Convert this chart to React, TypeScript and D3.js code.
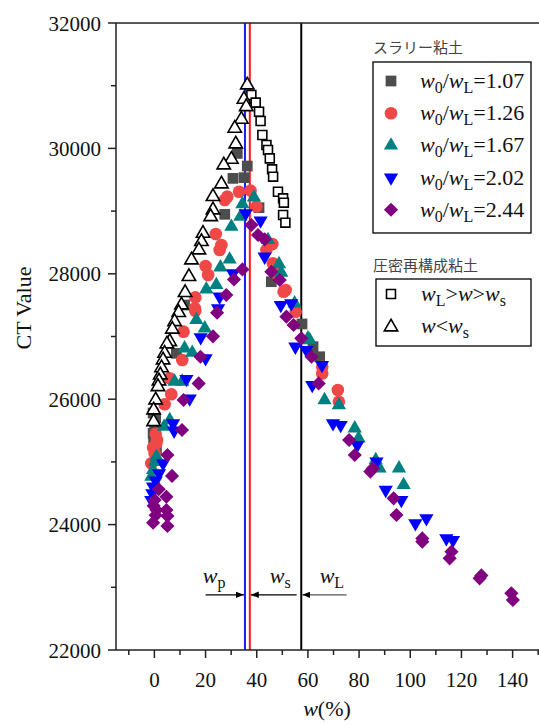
import React from "react";
import * as d3 from "d3";

const xTicksMajor = [0, 20, 40, 60, 80, 100, 120, 140];
const yTicksMajor = [22000, 24000, 26000, 28000, 30000, 32000];

const wP = 35.4;
const wS = 37.3;
const wL = 57.4;

const gray107: [number, number][] = [
  [32.4, 29920], [36.3, 29719], [35.0, 29533], [30.7, 29522], [40.9, 29055], [27.5, 28949],
  [45.7, 27874], [11.8, 27502], [8.6, 26732], [0.1, 25561], [-0.5, 25455], [0.5, 25700],
  [-0.3, 25300], [-0.5, 25780], [0.8, 25200], [57.7, 27200], [62.0, 26837], [64.6, 26677],
];
const red126: [number, number][] = [
  [37.6, 29327], [33.1, 29309], [28.5, 29230], [27.5, 29177], [39.9, 29071], [24.0, 28635],
  [26.2, 28459], [25.5, 28379], [20.0, 28124], [21.0, 27980], [16.0, 27624], [15.8, 27450],
  [16.0, 27411], [11.4, 27077], [10.9, 26625], [6.0, 26333], [6.6, 26078], [4.0, 25919],
  [1.0, 25349], [0.8, 25297], [0.1, 25137], [-1.2, 24978], [0.5, 25450], [-0.5, 25230],
  [46.3, 28167], [47.7, 28006], [51.3, 27742], [43.8, 28379], [46.1, 28475], [50.5, 27713],
  [55.2, 27395], [65.6, 26517], [65.6, 26411], [71.7, 26147], [72.1, 25960],
];
const teal167: [number, number][] = [
  [38.9, 29219], [34.4, 29113], [33.6, 28910], [30.1, 28751], [29.4, 28230], [25.8, 28104],
  [24.2, 27822], [20.3, 27753], [16.4, 27263], [19.7, 27130], [11.8, 26812], [14.8, 26742],
  [7.9, 26282], [10.9, 26282], [3.8, 25561], [6.0, 25668], [0.8, 25083], [0.3, 25000],
  [-0.5, 24871], [-1.2, 24764], [48.7, 28156], [49.6, 28018], [54.8, 27530], [44.4, 28539],
  [60.7, 26944], [60.0, 26971], [66.5, 25987], [72.1, 25907], [78.3, 25535], [79.8, 25376],
  [86.5, 25030], [88.0, 24898], [95.6, 24898], [97.4, 24632],
];
const blue202: [number, number][] = [
  [35.7, 28965], [41.5, 28848], [43.1, 28273], [30.7, 28006], [25.5, 27635], [24.9, 27450],
  [18.1, 26987], [20.0, 26652], [12.5, 26322], [13.8, 26010], [7.3, 25615], [7.7, 25497],
  [3.4, 24978], [1.8, 24818], [0.5, 24700], [-0.5, 24605], [-0.8, 24500], [-1.2, 24392],
  [49.4, 27502], [53.5, 27530], [55.1, 26837], [59.4, 26784], [65.5, 26545], [61.7, 26226],
  [69.8, 25615], [72.8, 25588], [79.3, 25269], [86.8, 25003], [90.4, 24552], [96.5, 24392],
  [102.0, 24021], [106.3, 24101], [114.1, 23782], [116.7, 23754],
];
const purple244: [number, number][] = [
  [37.9, 28778], [40.5, 28619], [43.1, 28550], [34.4, 28070], [31.1, 27910], [28.1, 27662],
  [24.5, 27380], [22.9, 27002], [18.0, 26677], [17.3, 26252], [11.4, 25987], [10.8, 25509],
  [5.1, 25110], [6.9, 24776], [1.7, 24563], [4.7, 24445], [0.1, 24392], [-0.3, 24300],
  [0.8, 24233], [4.7, 24233], [5.1, 24137], [0.5, 24150], [-0.5, 24031], [5.1, 23978],
  [45.7, 28032], [49.0, 27901], [51.6, 27316], [54.4, 27183], [57.4, 26971], [61.4, 26677],
  [64.2, 26252], [76.1, 25349], [78.3, 25110], [84.4, 24845], [85.4, 24898], [93.5, 24419],
  [94.6, 24153], [104.7, 23728], [104.7, 23780], [116.1, 23568], [115.4, 23462],
  [127.1, 23143], [127.8, 23190], [139.5, 22904], [140.1, 22797],
];
const openSquares: [number, number][] = [
  [37.9, 30852], [39.6, 30730], [40.9, 30585], [41.5, 30437], [42.2, 30213], [43.8, 30054],
  [44.4, 29974], [45.1, 29841], [46.0, 29666], [46.4, 29549], [48.3, 29309], [50.3, 29204],
  [50.6, 29134], [50.3, 28938], [51.2, 28815],
];
const openTriangles: [number, number][] = [
  [36.3, 31011], [35.0, 30783], [35.9, 30665], [34.0, 30464], [31.4, 30320], [31.8, 30070],
  [30.1, 29826], [27.1, 29735], [26.2, 29432], [22.9, 29230], [22.9, 29018], [22.0, 28910],
  [19.0, 28645], [18.4, 28512], [17.4, 28379], [14.5, 28220], [13.5, 27954], [12.0, 27700],
  [10.6, 27502], [9.5, 27380], [7.9, 27236], [7.0, 27115], [6.0, 26917], [4.9, 26880],
  [4.0, 26732], [3.4, 26625], [2.8, 26500], [2.3, 26386], [1.8, 26290], [1.4, 26199],
  [0.5, 25987], [-0.3, 25828], [-0.3, 25641],
];

const SERIF = '"Liberation Serif", "DejaVu Serif", serif';
const CJK = '"Noto Sans CJK JP", "Noto Sans CJK SC", sans-serif';

const W = 539;
const H = 724;

const x = d3.scaleLinear().domain([-15, 155]).range([116, 551]);
const y = d3.scaleLinear().domain([22000, 32000]).range([650, 23]);

const sq = d3.symbol().type(d3.symbolSquare).size(115)()!;
const circ = d3.symbol().type(d3.symbolCircle).size(125)()!;
const tri = d3.symbol().type(d3.symbolTriangle).size(88)()!;
const dia = d3.symbol().type(d3.symbolSquare).size(100)()!;
const osq = d3.symbol().type(d3.symbolSquare).size(80)()!;
const otri = d3.symbol().type(d3.symbolTriangle).size(78)()!;

type Style = { d: string; fill: string; stroke?: string; sw?: number; rot?: number };
const sGray: Style = { d: sq, fill: "#4d4d4d" };
const sRed: Style = { d: circ, fill: "#f04747" };
const sTeal: Style = { d: tri, fill: "#008080", rot: 0 };
const sBlue: Style = { d: tri, fill: "#0000ff", rot: 180 };
const sPurple: Style = { d: dia, fill: "#800080", rot: 45 };
const sOSq: Style = { d: osq, fill: "#fff", stroke: "#000", sw: 1.6 };
const sOTri: Style = { d: otri, fill: "#fff", stroke: "#000", sw: 1.6 };

function Marks({ data, s }: { data: [number, number][]; s: Style }) {
  return (
    <g>
      {data.map((p, i) => (
        <path
          key={i}
          d={s.d}
          transform={`translate(${x(p[0])},${y(p[1])})${s.rot ? ` rotate(${s.rot})` : ""}`}
          fill={s.fill}
          stroke={s.stroke || "none"}
          strokeWidth={s.sw || 0}
        />
      ))}
    </g>
  );
}

function Sym({ s, cx, cy }: { s: Style; cx: number; cy: number }) {
  return (
    <path
      d={s.d}
      transform={`translate(${cx},${cy})${s.rot ? ` rotate(${s.rot})` : ""}`}
      fill={s.fill}
      stroke={s.stroke || "none"}
      strokeWidth={s.sw || 0}
    />
  );
}

const legendVals = ["1.07", "1.26", "1.67", "2.02", "2.44"];
const legendStyles = [sGray, sRed, sTeal, sBlue, sPurple];

const serifStyle = { fontFamily: SERIF };
const cjkStyle = { fontFamily: CJK };

export default function App() {
  const xMinor = d3.range(-10, 151, 10);
  const yMinor = d3.range(22000, 32001, 1000);
  const axisColor = "#222";
  const annY = 22880;
  return (
    <svg
      width={W}
      height={H}
      style={{ position: "absolute", left: 0, top: 0, background: "#fff", fontFamily: SERIF }}
    >
      <defs>
        <marker id="ah" viewBox="0 0 10 10" refX="10" refY="5" markerWidth="8" markerHeight="8" orient="auto-start-reverse" markerUnits="userSpaceOnUse">
          <path d="M0,1 L10,5 L0,9 z" fill="#000" />
        </marker>
      </defs>

      {/* reference lines */}
      <line x1={x(wP)} x2={x(wP)} y1={y(32000)} y2={y(22000)} stroke="#1a1aff" strokeWidth={2} />
      <line x1={x(wS)} x2={x(wS)} y1={y(32000)} y2={y(22000)} stroke="#ff1a1a" strokeWidth={2} />
      <line x1={x(wL)} x2={x(wL)} y1={y(32000)} y2={y(22000)} stroke="#000" strokeWidth={2} />

      {/* data */}
      <Marks data={gray107} s={sGray} />
      <Marks data={red126} s={sRed} />
      <Marks data={teal167} s={sTeal} />
      <Marks data={blue202} s={sBlue} />
      <Marks data={purple244} s={sPurple} />
      <Marks data={openSquares} s={sOSq} />
      <Marks data={openTriangles} s={sOTri} />

      {/* axes */}
      <line x1={x(-15)} x2={x(155)} y1={y(32000)} y2={y(32000)} stroke={axisColor} strokeWidth={1.5} />
      <line x1={x(-15)} x2={x(155)} y1={y(22000)} y2={y(22000)} stroke={axisColor} strokeWidth={1.5} />
      <line x1={x(-15)} x2={x(-15)} y1={y(32000)} y2={y(22000)} stroke={axisColor} strokeWidth={1.5} />
      {xMinor.map((v) => (
        <line key={"xm" + v} x1={x(v)} x2={x(v)} y1={y(22000)} y2={y(22000) + (v % 20 === 0 ? 8 : 5)} stroke={axisColor} strokeWidth={1.5} />
      ))}
      {xTicksMajor.map((v) => (
        <text key={"xl" + v} x={x(v)} y={687} textAnchor="middle" fontSize={21} fill="#111" style={serifStyle}>
          {v}
        </text>
      ))}
      {yMinor.map((v) => (
        <line key={"ym" + v} x1={x(-15)} x2={x(-15) - (v % 2000 === 0 ? 8 : 5)} y1={y(v)} y2={y(v)} stroke={axisColor} strokeWidth={1.5} />
      ))}
      {yTicksMajor.map((v) => (
        <text key={"yl" + v} x={101} y={y(v) + 7.5} textAnchor="end" fontSize={21} fill="#111" style={serifStyle}>
          {v}
        </text>
      ))}
      <text transform={`translate(31,${308}) rotate(-90)`} textAnchor="middle" fontSize={22} fill="#111" style={serifStyle}>
        CT Value
      </text>
      <text x={327} y={716} textAnchor="middle" fontSize={22} fill="#111" style={serifStyle}>
        <tspan fontStyle="italic">w</tspan>(%)
      </text>

      {/* annotations */}
      <line x1={x(20)} x2={x(wP) - 1} y1={y(annY)} y2={y(annY)} stroke="#000" strokeWidth={1.3} markerEnd="url(#ah)" />
      <line x1={x(55.6)} x2={x(wS) + 1} y1={y(annY)} y2={y(annY)} stroke="#000" strokeWidth={1.3} markerEnd="url(#ah)" />
      <line x1={x(75.1)} x2={x(wL) + 1} y1={y(annY)} y2={y(annY)} stroke="#555" strokeWidth={1.3} markerEnd="url(#ah)" />
      <text x={x(18.9)} y={583} fontSize={22} fill="#111" style={serifStyle}>
        <tspan fontStyle="italic">w</tspan>
        <tspan fontSize={16} dy={5}>p</tspan>
      </text>
      <text x={x(45.1)} y={583} fontSize={22} fill="#111" style={serifStyle}>
        <tspan fontStyle="italic">w</tspan>
        <tspan fontSize={16} dy={5}>s</tspan>
      </text>
      <text x={x(64.6)} y={583} fontSize={22} fill="#111" style={serifStyle}>
        <tspan fontStyle="italic">w</tspan>
        <tspan fontSize={16} dy={5}>L</tspan>
      </text>

      {/* legend 1 */}
      <text x={373} y={53} fontSize={15} fill="#444" style={cjkStyle}>
        スラリー粘土
      </text>
      <rect x={373} y={62} width={158} height={171} fill="#fff" stroke="#000" strokeWidth={1.3} />
      {legendVals.map((v, i) => {
        const cy = 81 + i * 32.2;
        return (
          <g key={v}>
            <Sym s={legendStyles[i]} cx={391} cy={cy} />
            <text x={420} y={cy + 7} fontSize={22} fill="#111" style={serifStyle}>
              <tspan fontStyle="italic">w</tspan>
              <tspan fontSize={16} dy={5}>0</tspan>
              <tspan dy={-5}>/</tspan>
              <tspan fontStyle="italic">w</tspan>
              <tspan fontSize={16} dy={5}>L</tspan>
              <tspan dy={-5}>={v}</tspan>
            </text>
          </g>
        );
      })}

      {/* legend 2 */}
      <text x={373} y={271} fontSize={15} fill="#444" style={cjkStyle}>
        圧密再構成粘土
      </text>
      <rect x={376} y={279} width={155} height={67} fill="#fff" stroke="#000" strokeWidth={1.3} />
      <Sym s={sOSq} cx={391} cy={294} />
      <text x={421} y={301} fontSize={22} fill="#111" style={serifStyle}>
        <tspan fontStyle="italic">w</tspan>
        <tspan fontSize={16} dy={5}>L</tspan>
        <tspan dy={-5}>&gt;</tspan>
        <tspan fontStyle="italic">w</tspan>
        <tspan>&gt;</tspan>
        <tspan fontStyle="italic">w</tspan>
        <tspan fontSize={16} dy={5}>s</tspan>
      </text>
      <Sym s={sOTri} cx={391} cy={327} />
      <text x={421} y={333} fontSize={22} fill="#111" style={serifStyle}>
        <tspan fontStyle="italic">w</tspan>
        <tspan>&lt;</tspan>
        <tspan fontStyle="italic">w</tspan>
        <tspan fontSize={16} dy={5}>s</tspan>
      </text>
    </svg>
  );
}
